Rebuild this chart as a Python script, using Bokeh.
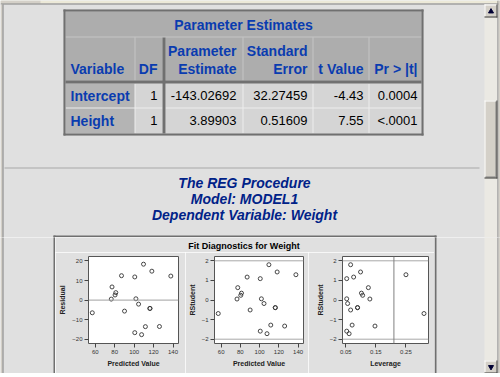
from bokeh.plotting import figure
from bokeh.layouts import row, column
from bokeh.models import Range1d, FixedTicker, Span, ColumnDataSource
from bokeh.core.properties import value
from bokeh.embed import file_html
from bokeh.resources import INLINE

# ---------------- data ----------------
table_title = "Parameter Estimates"
variables = ["Intercept", "Height"]
df_values = [1, 1]
estimates = [-143.02692, 3.89903]
std_errors = [32.27459, 0.51609]
t_values = [-4.43, 7.55]
p_values = ["0.0004", "<.0001"]

titles = ["The REG Procedure", "Model: MODEL1", "Dependent Variable: Weight"]
panel_title = "Fit Diagnostics for Weight"

predicted = [126.01, 77.27, 111.58, 101.83, 104.56, 80.39, 90.13, 100.66, 100.66, 87.02,
             56.99, 107.68, 76.49, 116.26, 137.70, 109.63, 118.21, 81.17, 116.26]
residual = [-13.51, 6.73, -13.58, 0.67, -2.06, 2.61, -5.63, 11.84, -16.66, 12.48,
            -6.49, -17.68, 0.51, -4.26, 12.30, 18.37, 14.79, 3.83, -4.26]
rstudent = [-1.33, 0.63, -1.28, 0.06, -0.18, 0.24, -0.51, 1.09, -1.59, 1.17,
            -0.69, -1.72, 0.05, -0.39, 1.29, 1.80, 1.43, 0.35, -0.39]
leverage = [0.147, 0.125, 0.071, 0.053, 0.056, 0.106, 0.066, 0.053, 0.053, 0.076,
            0.310, 0.061, 0.130, 0.089, 0.250, 0.066, 0.099, 0.102, 0.089]
leverage_cutoff = 0.21
rstudent_limits = [-2, 2]
pred_ticks = [60, 80, 100, 120, 140]
resid_ticks = [-20, -10, 0, 10, 20]
rstud_ticks = [-2, -1, 0, 1, 2]
lev_ticks = [0.05, 0.15, 0.25]

# ---------------- styles ----------------
BG = "#e0e0e0"
FONT = "Liberation Sans"
HDR_BLUE = "#0a3cb0"
TITLE_BLUE = "#002288"
DARK = "#707070"

chrome = [
    (0, 500, 0, 3, "#ece9d8"), (0, 40, 0, 3, "#d4d0c8"), (0, 500, 3, 4, "#808080"),
    (0, 2, 4, 377, "#d4d0c8"), (2, 3, 4, 373, "#808080"),
    (4, 479, 167, 168, "#a8a8a8"),
    (53, 436, 235, 237, DARK), (53, 55, 235, 373, DARK), (434, 436, 235, 373, DARK),
    # scrollbar track
    (484, 497, 4, 373, "#ebe9e3"),
    # up button
    (484, 497, 4, 17, "#d4d0c8"), (484, 496, 4, 5, "#ffffff"), (484, 485, 4, 16, "#ffffff"),
    (496, 497, 4, 17, "#404040"), (484, 497, 16, 17, "#404040"),
    # thumb
    (484, 497, 100, 178, "#d4d0c8"), (484, 496, 100, 101, "#ffffff"), (484, 485, 100, 177, "#ffffff"),
    (495, 496, 101, 177, "#808080"), (485, 495, 176, 177, "#808080"),
    (496, 497, 100, 178, "#404040"), (484, 497, 177, 178, "#404040"),
    # down button
    (484, 497, 360, 373, "#d4d0c8"), (484, 496, 360, 361, "#ffffff"), (484, 485, 360, 372, "#ffffff"),
    (496, 497, 360, 373, "#404040"), (484, 497, 372, 373, "#404040"),
    (497, 498, 0, 377, "#808080"), (498, 500, 0, 377, "#d4d0c8"),
    (0, 500, 373, 374, "#f4f4f4"), (0, 500, 374, 377, "#d4d0c8"),
]


def draw_quads(p, items):
    src = ColumnDataSource(dict(l=[q[0] for q in items], r=[q[1] for q in items],
                                t=[q[2] for q in items], b=[q[3] for q in items],
                                c=[q[4] for q in items]))
    p.quad(left="l", right="r", top="t", bottom="b", fill_color="c", line_color=None, source=src)


def chrome_fig(x0, x1, y0, y1):
    p = figure(width=x1 - x0, height=y1 - y0, x_range=Range1d(x0, x1), y_range=Range1d(y1, y0),
               output_backend="svg", toolbar_location=None, min_border=0,
               x_axis_type=None, y_axis_type=None, outline_line_color=None,
               background_fill_color=BG, border_fill_color=BG)
    p.grid.visible = False
    draw_quads(p, chrome)
    p.scatter([490.5], [11], marker="triangle", size=5, color="#000033")
    p.scatter([490.5], [366.5], marker="inverted_triangle", size=5, color="#000033")
    return p


# ---------------- top part: table + titles ----------------
top = chrome_fig(0, 500, 0, 237)

cols = [(65, 134), (135, 162), (165, 242), (243, 312), (313, 368), (369, 421)]
HDR_BG = "#adadad"
ROWHDR_BG = "#b4b4b4"
DATA_BG = "#d5d5d5"
tq = [(63, 423, 9, 135, "#c4c4c4"), (65, 421, 83, 133, "#ececec")]
tq.append((65, 421, 11, 36, HDR_BG))
for (l, r) in cols:
    tq.append((l, r, 37, 80, HDR_BG))
for (t, b) in [(83, 107), (108, 133)]:
    for i, (l, r) in enumerate(cols):
        tq.append((l, r, t, b, ROWHDR_BG if i == 0 else DATA_BG))
tq += [(162, 165, 37, 133, DARK), (65, 421, 80, 83, DARK),
       (63, 423, 9, 11, DARK), (63, 423, 133, 135, DARK), (63, 65, 9, 135, DARK), (421, 423, 9, 135, DARK)]
draw_quads(top, tq)

tf = value(FONT)
top.text(x=[243], y=[24], text=[table_title], text_align="center", text_baseline="middle",
         text_font=tf, text_font_style="bold", text_font_size="14px", text_color=HDR_BLUE)
hdr_x = [70, 157, 236, 236, 307, 307, 363, 417]
hdr_y = [68, 68, 50, 68, 50, 68, 68, 68]
hdr_t = ["Variable", "DF", "Parameter", "Estimate", "Standard", "Error", "t Value", "Pr > |t|"]
hdr_a = ["left"] + ["right"] * 7
top.text(x=hdr_x, y=hdr_y, text=hdr_t, text_align=hdr_a, text_baseline="middle",
         text_font=tf, text_font_style="bold", text_font_size="14px", text_color=HDR_BLUE)
row_y = [95, 120]
top.text(x=[70] * 2, y=row_y, text=variables, text_align="left", text_baseline="middle",
         text_font=tf, text_font_style="bold", text_font_size="14px", text_color=HDR_BLUE)
cells_x, cells_y, cells_t = [], [], []
for i in range(len(variables)):
    vals = [str(df_values[i]), f"{estimates[i]:.5f}", f"{std_errors[i]:.5f}",
            f"{t_values[i]:.2f}", p_values[i]]
    for x, v in zip([157, 236, 307, 363, 417], vals):
        cells_x.append(x); cells_y.append(row_y[i]); cells_t.append(v)
top.text(x=cells_x, y=cells_y, text=cells_t, text_align="right", text_baseline="middle",
         text_font=tf, text_font_size="13px", text_color="#000000")

top.text(x=[244] * 3, y=[182, 198.5, 214.5], text=titles, text_align="center", text_baseline="middle",
         text_font=tf, text_font_style="bold italic", text_font_size="14px", text_color=TITLE_BLUE)

# ---------------- bottom part: diagnostics panel ----------------
left_fill = chrome_fig(0, 55, 237, 373)
right_fill = chrome_fig(434, 500, 237, 373)
bottom = chrome_fig(0, 500, 373, 377)

title_fig = figure(width=379, height=15, x_range=Range1d(55, 434), y_range=Range1d(252, 237),
                   output_backend="svg", toolbar_location=None, min_border=0,
                   x_axis_type=None, y_axis_type=None, outline_line_color=None,
                   background_fill_color=BG, border_fill_color=BG)
title_fig.grid.visible = False
title_fig.text(x=[243.5], y=[245.5], text=[panel_title], text_align="center", text_baseline="middle",
               text_font=tf, text_font_style="bold", text_font_size="9px", text_color="#000000")


def scatter_fig(width, bl, br, xs, ys, xr, yr, xticks, yticks, xlabel, ylabel):
    p = figure(width=width, height=121, x_range=Range1d(*xr), y_range=Range1d(*yr),
               min_border_left=bl, min_border_right=br, min_border_top=4, min_border_bottom=30,
               output_backend="svg", toolbar_location=None,
               background_fill_color="white", border_fill_color=BG,
               outline_line_color="#555555", outline_line_width=1)
    p.grid.visible = False
    p.xaxis.ticker = FixedTicker(ticks=xticks)
    p.yaxis.ticker = FixedTicker(ticks=yticks)
    p.xaxis.axis_label = xlabel
    p.yaxis.axis_label = ylabel
    for ax in p.axis:
        ax.axis_line_color = None
        ax.major_tick_in = 0
        ax.major_tick_out = 4
        ax.major_tick_line_color = "#444444"
        ax.minor_tick_line_color = None
        ax.major_label_text_font = FONT
        ax.major_label_text_font_size = "6px"
        ax.major_label_text_color = "#333333"
        ax.major_label_standoff = 2
        ax.axis_label_text_font = FONT
        ax.axis_label_text_font_style = "bold"
        ax.axis_label_text_font_size = "7px"
        ax.axis_label_text_color = "#222222"
        ax.axis_label_standoff = 3
    p.scatter(xs, ys, marker="circle", size=4, fill_color=None, line_color="#333333", line_width=0.9)
    return p


pred_range = (53.1, 145.6)
f1 = scatter_fig(130, 33, 7, predicted, residual, pred_range, (-22.2, 22.3),
                 pred_ticks, resid_ticks, "Predicted Value", "Residual")
f1.add_layout(Span(location=0, dimension="width", line_color="#a0a0a0", line_width=1))
f2 = scatter_fig(123, 23, 5, predicted, rstudent, pred_range, (-2.22, 2.22),
                 pred_ticks, rstud_ticks, "Predicted Value", "RStudent")
f3 = scatter_fig(126, 34, 6, leverage, rstudent, (0.039, 0.325), (-2.22, 2.22),
                 lev_ticks, rstud_ticks, "Leverage", "RStudent")
for f in (f2, f3):
    for lim in rstudent_limits:
        f.add_layout(Span(location=lim, dimension="width", line_color="#a8a8a8", line_width=1))
f3.add_layout(Span(location=leverage_cutoff, dimension="height", line_color="#808080", line_width=1))

layout = column(top,
                row(left_fill, column(title_fig, row(f1, f2, f3)), right_fill),
                bottom)

open("out.html", "w").write(file_html(layout, INLINE))
